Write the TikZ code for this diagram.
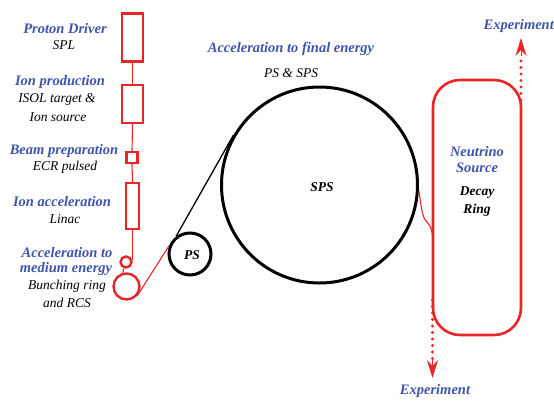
\documentclass[tikz,border=0pt]{standalone}
\usepackage{fontspec}
\setmainfont{Liberation Serif}
\newfontfamily\labelfont{Liberation Serif}
\usetikzlibrary{arrows.meta,calc}
\definecolor{beamred}{RGB}{232,38,40}
\definecolor{titleblue}{RGB}{62,84,172}
\tikzset{
  head/.style={text=titleblue,font=\labelfont\fontsize{14.5}{16}\selectfont\bfseries\itshape,inner sep=0pt},
  sub/.style={text=black,font=\labelfont\fontsize{13.5}{15}\selectfont\itshape,inner sep=0pt},
  ringname/.style={text=black,font=\labelfont\fontsize{13.5}{15}\selectfont\bfseries\itshape,inner sep=0pt},
  stage/.style={draw=beamred,line width=2.4pt,inner sep=0pt},
  beamline/.style={draw=beamred,line width=1.1pt},
  machine/.style={draw=black,line width=3pt,circle,inner sep=0pt},
  outbeam/.style={beamred,line width=3.4pt,dash pattern=on 0pt off 6.5pt,line cap=round},
  outhead/.style={beamred,line width=0.6pt,-{Stealth[length=18pt,width=11pt,inset=6pt]}},
}
\begin{document}
\begin{tikzpicture}[x=1pt,y=-1pt]
\useasboundingbox (0,0) rectangle (554,400);

% linac chain
\node[stage,minimum width=21pt,minimum height=48pt] (spl) at (132.5,37.5) {};
\node[stage,minimum width=21pt,minimum height=38pt] (isol) at (132.5,104) {};
\node[stage,minimum width=11pt,minimum height=11pt] (ecr) at (132,157.5) {};
\node[stage,minimum width=13pt,minimum height=46pt] (linac) at (132.5,206) {};
\node[draw=beamred,line width=2.4pt,circle,minimum size=11pt,inner sep=0pt] (bunch) at (126,262) {};
\node[draw=beamred,line width=2.4pt,circle,minimum size=26pt,inner sep=0pt] (rcs) at (126.5,286.5) {};
\coordinate (drop) at (132.5,260);

\draw[beamline] (spl.south) -- (isol.north);
\draw[beamline] (isol.south) -- (ecr.north);
\draw[beamline] (ecr.south) -- (linac.north);
\draw[beamline] (linac.south) -- (drop);
\draw[beamline] (bunch.250) -- (rcs.105);

% PS and SPS
\node[machine,minimum size=42pt] (ps) at (190,254) {};
\node[machine,minimum size=196pt] (sps) at (319.5,185) {};
\draw[beamline] (rcs.-40) -- (ps.158);
\draw[black,line width=1.3pt] (ps.128) -- (sps.150);

% decay ring
\draw[beamred,line width=2.6pt,rounded corners=27pt] (433,80) rectangle (521,335);
\coordinate (ringtop) at (521,100);
\coordinate (ringbot) at (432.5,300);
\coordinate (dottop) at (521,56);
\coordinate (dotbot) at (432.5,360);
\coordinate (tiptop) at (521,38);
\coordinate (tipbot) at (432.5,378);
\coordinate (inj) at (433,244);
\draw[beamline] (sps.east) ++(0,6) .. controls (421,205) and (422,218) .. (427,222)
  .. controls (431,226) and (433,232) .. (inj);

% extracted beams towards the experiments
\draw[outbeam] (ringtop) -- (dottop);
\draw[outhead] (dottop) -- (tiptop);
\draw[outbeam] (ringbot) -- (dotbot);
\draw[outhead] (dotbot) -- (tipbot);

% labels
\node[head] (l1) at (65,29) {Proton Driver};
\node[sub]  (l1b) at (64,45.5) {SPL};
\node[head] (l2) at (60,82) {Ion production};
\node[sub]  (l2b) at (57,99.5) {ISOL target \&};
\node[sub]  (l2c) at (58,117) {Ion source};
\node[head] (l3) at (64,151) {Beam preparation};
\node[sub]  (l3b) at (65,167.5) {ECR pulsed};
\node[head] (l4) at (62,202) {Ion acceleration};
\node[sub]  (l4b) at (65,219) {Linac};
\node[head] (l5) at (67,253) {Acceleration to};
\node[head] (l5b) at (66,269) {medium energy};
\node[sub]  (l5c) at (67,286) {Bunching ring};
\node[sub]  (l5d) at (67,303) {and RCS};

\node[head] (l6) at (291,49) {Acceleration to final energy};
\node[sub]  (l6b) at (291,73) {PS \& SPS};
\node[ringname] (spsl) at (322,187) {SPS};
\node[ringname] (psl) at (192,255) {PS};

\node[head] (l7) at (477,152) {Neutrino};
\node[head] (l7b) at (477,168) {Source};
\node[ringname] (l7c) at (477,193) {Decay};
\node[ringname] (l7d) at (477,210) {Ring};

\node[head,anchor=east] (e1) at (554,26) {Experiment};
\node[head] (e2) at (435,391) {Experiment};
\end{tikzpicture}
\end{document}
